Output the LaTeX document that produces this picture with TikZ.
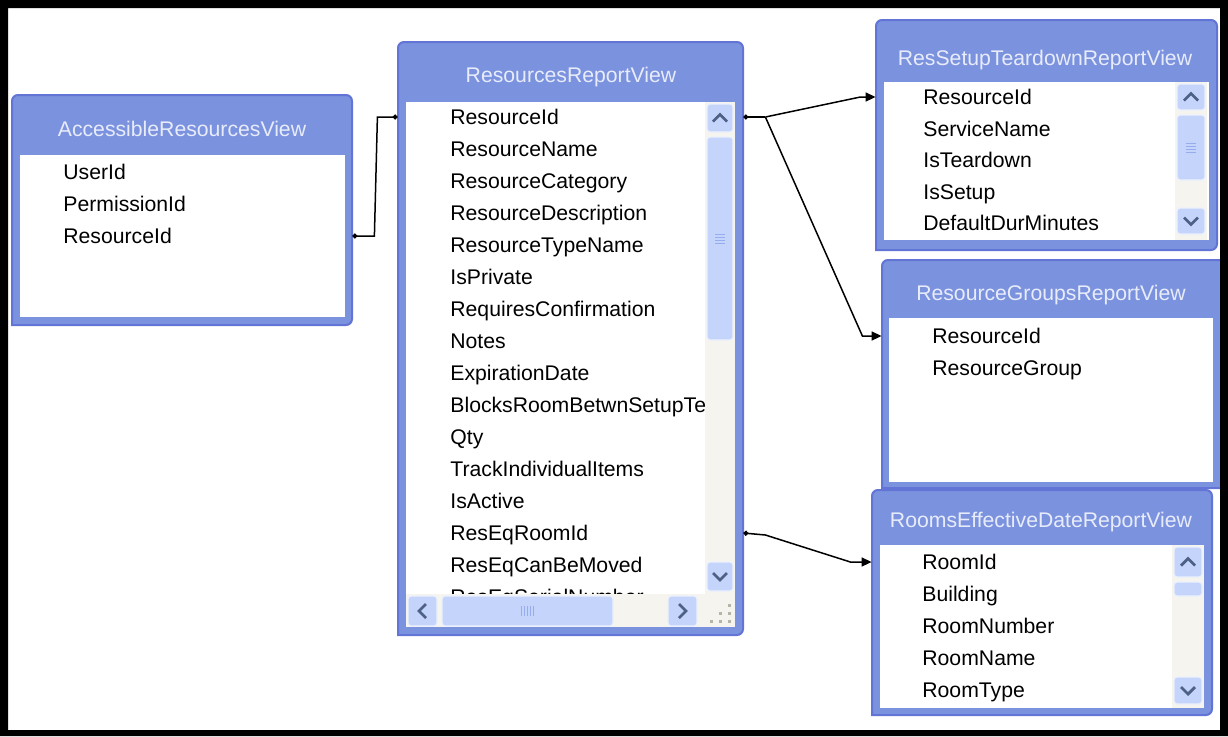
\documentclass[tikz,border=0pt]{standalone}
\usepackage{fontspec}
\setmainfont{Liberation Sans}
\usetikzlibrary{arrows.meta,calc,fit}
\definecolor{bandblue}{RGB}{123,146,222}
\definecolor{edgeblue}{RGB}{98,116,214}
\definecolor{titletext}{RGB}{232,236,250}
\definecolor{btnblue}{RGB}{197,212,250}
\definecolor{btnedge}{RGB}{236,241,253}
\definecolor{chevc}{RGB}{77,97,133}
\definecolor{trackc}{RGB}{245,244,238}
\definecolor{gripc}{RGB}{184,180,168}
\definecolor{thumbgrip}{RGB}{150,172,238}
\tikzset{
  framefill/.style={fill=bandblue, draw=edgeblue, line width=1pt},
  titletxt/.style={text=titletext, inner sep=0, text height=7.5pt, text depth=0pt, font=\fontsize{10.6}{12}\selectfont},
  item/.style={anchor=base west, inner sep=0, text height=7.5pt, text depth=0pt, font=\fontsize{10.6}{12}\selectfont},
  btn/.style={fill=btnblue, draw=btnedge, line width=0.6pt, rounded corners=1.5pt},
  chev/.style={draw=chevc, line width=1.4pt},
  conn/.style={draw=black, line width=0.75pt},
  boxnode/.style={inner sep=0, draw=none},
  dotstart/.style={{Circle[length=2.5pt]}-},
  arrowend/.style={-{Triangle[length=5pt,width=4.5pt]}},
}
% frame: name, x1, y1, x2, y2
\newcommand\dbframe[5]{%
  \node[boxnode, fit={(#2,#3) (#4,#5)}] (#1) {};
  \path[framefill] (#2,#5) [rounded corners=3pt] -- (#2,#3) -- (#4,#3) -- (#4,#5) [sharp corners] -- cycle;
}
\newcommand\upbtn[4]{%
  \draw[btn] (#1,#2) rectangle (#3,#4);
  \draw[chev] ($(#1,#2)!0.5!(#3,#4)+(-7,3.5)$) -- ++(7,-7) -- ++(7,7);
}
\newcommand\downbtn[4]{%
  \draw[btn] (#1,#2) rectangle (#3,#4);
  \draw[chev] ($(#1,#2)!0.5!(#3,#4)+(-7,-3.5)$) -- ++(7,7) -- ++(7,-7);
}
\newcommand\leftbtn[4]{%
  \draw[btn] (#1,#2) rectangle (#3,#4);
  \draw[chev] ($(#1,#2)!0.5!(#3,#4)+(3.5,-7)$) -- ++(-7,7) -- ++(7,7);
}
\newcommand\rightbtn[4]{%
  \draw[btn] (#1,#2) rectangle (#3,#4);
  \draw[chev] ($(#1,#2)!0.5!(#3,#4)+(-3.5,-7)$) -- ++(7,7) -- ++(-7,7);
}
\newcommand\vthumb[4]{%
  \draw[btn] (#1,#2) rectangle (#3,#4);
  \coordinate (vtc) at ($(#1,#2)!0.5!(#3,#4)$);
  \foreach \d in {-4.5,-1.5,1.5,4.5} \draw[thumbgrip, line width=0.5pt] ($(vtc)+(-5,\d)$) -- ++(10,0);
}
\newcommand\hthumb[4]{%
  \draw[btn] (#1,#2) rectangle (#3,#4);
  \coordinate (htc) at ($(#1,#2)!0.5!(#3,#4)$);
  \foreach \d in {-6,-3,0,3,6} \draw[thumbgrip, line width=0.5pt] ($(htc)+(\d,-5)$) -- ++(0,10);
}
\begin{document}
\begin{tikzpicture}[x=0.5pt,y=-0.5pt]
\useasboundingbox (0,0) rectangle (1228,736);
\fill[white] (0,0) rectangle (1228,736);

% ---------- AccessibleResourcesView ----------
\dbframe{acc}{12}{95}{352}{325}
\fill[white] (20,155) rectangle (345,317);
\node[titletxt] (acct) at (182,129) {AccessibleResourcesView};
\foreach \t [count=\i] in {UserId,PermissionId,ResourceId}
  \node[item] (acc\i) at (63,{179.5+32*(\i-1)}) {\t};

% ---------- ResourcesReportView ----------
\dbframe{res}{398}{42}{743}{635}
\fill[white] (406,102) rectangle (735,627);
\node[titletxt] (rest) at (571,75) {ResourcesReportView};
\begin{scope}
\clip (406,102) rectangle (705,594);
\foreach \t [count=\i] in {ResourceId,ResourceName,ResourceCategory,ResourceDescription,ResourceTypeName,IsPrivate,RequiresConfirmation,Notes,ExpirationDate,BlocksRoomBetwnSetupTe,Qty,TrackIndividualItems,IsActive,ResEqRoomId,ResEqCanBeMoved,ResEqSerialNumber}
  \node[item] (res\i) at (450,{124.5+32*(\i-1)}) {\t};
\end{scope}
\fill[trackc] (705,102) rectangle (735,594);
\upbtn{707}{104}{733}{132}
\vthumb{707}{137}{733}{340}
\downbtn{707}{562}{733}{591}
\fill[trackc] (406,594) rectangle (735,627);
\leftbtn{408}{596}{437}{626}
\hthumb{442}{596}{613}{626}
\rightbtn{668}{596}{697}{626}
\foreach \p in {(729,605),(720,613),(729,613),(711,621),(720,621),(729,621)}
  \fill[gripc] \p +(-1.5,-1.5) rectangle +(1.5,1.5);

% ---------- ResSetupTeardownReportView ----------
\dbframe{setup}{876}{20}{1217}{250}
\fill[white] (884,82) rectangle (1209,240);
\node[titletxt] (setupt) at (1045,58) {ResSetupTeardownReportView};
\foreach \t [count=\i] in {ResourceId,ServiceName,IsTeardown,IsSetup,DefaultDurMinutes}
  \node[item] (setup\i) at (923,{104.5+31.5*(\i-1)}) {\t};
\fill[trackc] (1175,82) rectangle (1207,240);
\upbtn{1177}{84}{1205}{110}
\vthumb{1177}{115}{1205}{180}
\downbtn{1177}{208}{1205}{234}

% ---------- ResourceGroupsReportView ----------
\dbframe{groups}{882}{260}{1226}{488}
\fill[white] (889,318) rectangle (1213,482);
\node[titletxt] (groupst) at (1051,293) {ResourceGroupsReportView};
\foreach \t [count=\i] in {ResourceId,ResourceGroup}
  \node[item] (groups\i) at (932,{343.5+32*(\i-1)}) {\t};

% ---------- RoomsEffectiveDateReportView ----------
\dbframe{rooms}{872}{490}{1212}{715}
\fill[white] (880,545) rectangle (1204,708);
\node[titletxt] (roomst) at (1041,520) {RoomsEffectiveDateReportView};
\foreach \t [count=\i] in {RoomId,Building,RoomNumber,RoomName,RoomType}
  \node[item] (rooms\i) at (922,{569.5+32*(\i-1)}) {\t};
\fill[trackc] (1172,545) rectangle (1204,708);
\upbtn{1174}{547}{1202}{577}
\draw[btn] (1174,582) rectangle (1202,596);
\downbtn{1174}{677}{1202}{704}

% ---------- connectors ----------
\draw[conn, {Circle[length=2.5pt]}-{Circle[length=2.5pt]}]
  (acc.east |- acc3) -- ++(22,0) -- ++(3,-119) -- (res.west |- res1);
\coordinate (j1) at ($(res.east |- res1)+(22,0)$);
\draw[conn, dotstart] (res.east |- res1) -- (j1);
\draw[conn, arrowend] (j1) -- ++(95,-20) -- (setup.west |- setup1);
\draw[conn, arrowend] (j1) -- ++(97,219) -- (groups.west |- groups1);
\draw[conn, {Circle[length=2.5pt]}-{Triangle[length=5pt,width=4.5pt]}]
  (res.east |- res14) -- ++(22,2) -- ++(85,27) -- (rooms.west |- rooms1);

% ---------- outer black border ----------
\fill[black, even odd rule] (0,0) rectangle (1228,736) (8,8) rectangle (1220,730);
\end{tikzpicture}
\end{document}
